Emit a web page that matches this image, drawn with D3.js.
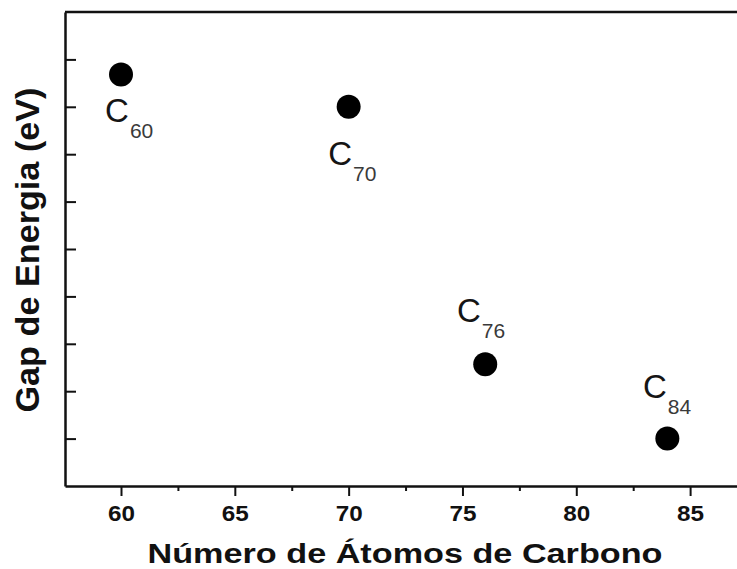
<!DOCTYPE html>
<html>
<head>
<meta charset="utf-8">
<script src="https://cdn.jsdelivr.net/npm/d3@7"></script>
<style>
  body { margin: 0; background: #fff; }
  svg { display: block; }
</style>
</head>
<body>
<div id="chart"></div>
<script>
// Fullerene data (energy gap in arbitrary units, the axis has no labels)
const fullerenes = ["60", "70", "76", "84"];
const carbonAtoms = [60, 70, 76, 84];
const energyGap = [8.68, 8.0, 2.57, 1.0];
// label anchors (left edge / baseline of the "C"), in data units
const labelAtoms = [59.3, 69.1, 74.76, 82.93];
const labelGap = [7.68, 6.77, 3.46, 1.86];

const xTicks = [60, 65, 70, 75, 80, 85];
const xMinorTicks = [62.5, 67.5, 72.5, 77.5, 82.5, 87.5];
const yTicks = [1, 2, 3, 4, 5, 6, 7, 8, 9];

const width = 737, height = 569;
const margin = {top: 12, right: 0, bottom: 83, left: 65};
const font = "'Liberation Sans', Arial, sans-serif";
const axisColor = "#111";

const svg = d3.select("#chart")
    .append("svg")
    .attr("width", width)
    .attr("height", height);

// scales
const x = d3.scaleLinear()
    .domain([57.54, 87.06])
    .range([margin.left, width - margin.right]);

const y = d3.scaleLinear()
    .domain([0, 10])
    .range([height - margin.bottom, margin.top]);

// x axis: major ticks with labels, minor ticks without
const xAxis = svg.append("g")
    .attr("transform", `translate(0,${y(0)})`)
    .call(d3.axisBottom(x).tickValues(xTicks).tickSize(10).tickSizeOuter(0).tickPadding(9));

svg.append("g")
    .attr("transform", `translate(0,${y(0)})`)
    .call(d3.axisBottom(x).tickValues(xMinorTicks).tickSize(5).tickFormat(""))
    .call(g => g.select(".domain").remove());

xAxis.selectAll(".tick text")
    .style("font-family", font)
    .style("font-weight", "bold")
    .style("font-size", "22px")
    .attr("fill", axisColor)
    .attr("textLength", 27)
    .attr("lengthAdjust", "spacingAndGlyphs");

// y axis: inward ticks, no labels
svg.append("g")
    .attr("transform", `translate(${x.range()[0]},0)`)
    .call(d3.axisLeft(y).tickValues(yTicks).tickSize(-11).tickSizeOuter(0).tickFormat(""));

// top frame line
svg.append("line")
    .attr("x1", x.range()[0])
    .attr("x2", x.range()[1])
    .attr("y1", y(10))
    .attr("y2", y(10))
    .attr("stroke", axisColor)
    .attr("stroke-width", 2.5);

svg.selectAll(".domain")
    .attr("stroke", axisColor)
    .attr("stroke-width", 2.5);

svg.selectAll(".tick line")
    .attr("stroke", axisColor)
    .attr("stroke-width", 2);

// points
svg.selectAll(".point")
    .data(carbonAtoms)
    .enter().append("circle")
    .attr("class", "point")
    .attr("cx", d => x(d))
    .attr("cy", (d, i) => y(energyGap[i]))
    .attr("r", 12)
    .attr("fill", "#000");

// C_n labels
const labels = svg.selectAll(".clabel")
    .data(fullerenes)
    .enter().append("text")
    .attr("class", "clabel")
    .attr("x", (d, i) => x(labelAtoms[i]))
    .attr("y", (d, i) => y(labelGap[i]))
    .style("font-family", font);

labels.append("tspan")
    .text("C")
    .style("font-size", "33px")
    .attr("fill", "#151515");

labels.append("tspan")
    .text(d => d)
    .attr("dx", 1)
    .attr("dy", 16)
    .style("font-size", "21px")
    .attr("fill", "#3a3a3a");

// axis titles
svg.append("text")
    .attr("x", 405)
    .attr("y", 563)
    .attr("text-anchor", "middle")
    .attr("textLength", 515)
    .attr("lengthAdjust", "spacingAndGlyphs")
    .style("font-family", font)
    .style("font-weight", "bold")
    .style("font-size", "27px")
    .attr("fill", axisColor)
    .text("Número de Átomos de Carbono");

svg.append("text")
    .attr("transform", "translate(39,250) rotate(-90)")
    .attr("text-anchor", "middle")
    .attr("textLength", 325)
    .attr("lengthAdjust", "spacingAndGlyphs")
    .style("font-family", font)
    .style("font-weight", "bold")
    .style("font-size", "33px")
    .attr("fill", axisColor)
    .text("Gap de Energia (eV)");
</script>
</body>
</html>
